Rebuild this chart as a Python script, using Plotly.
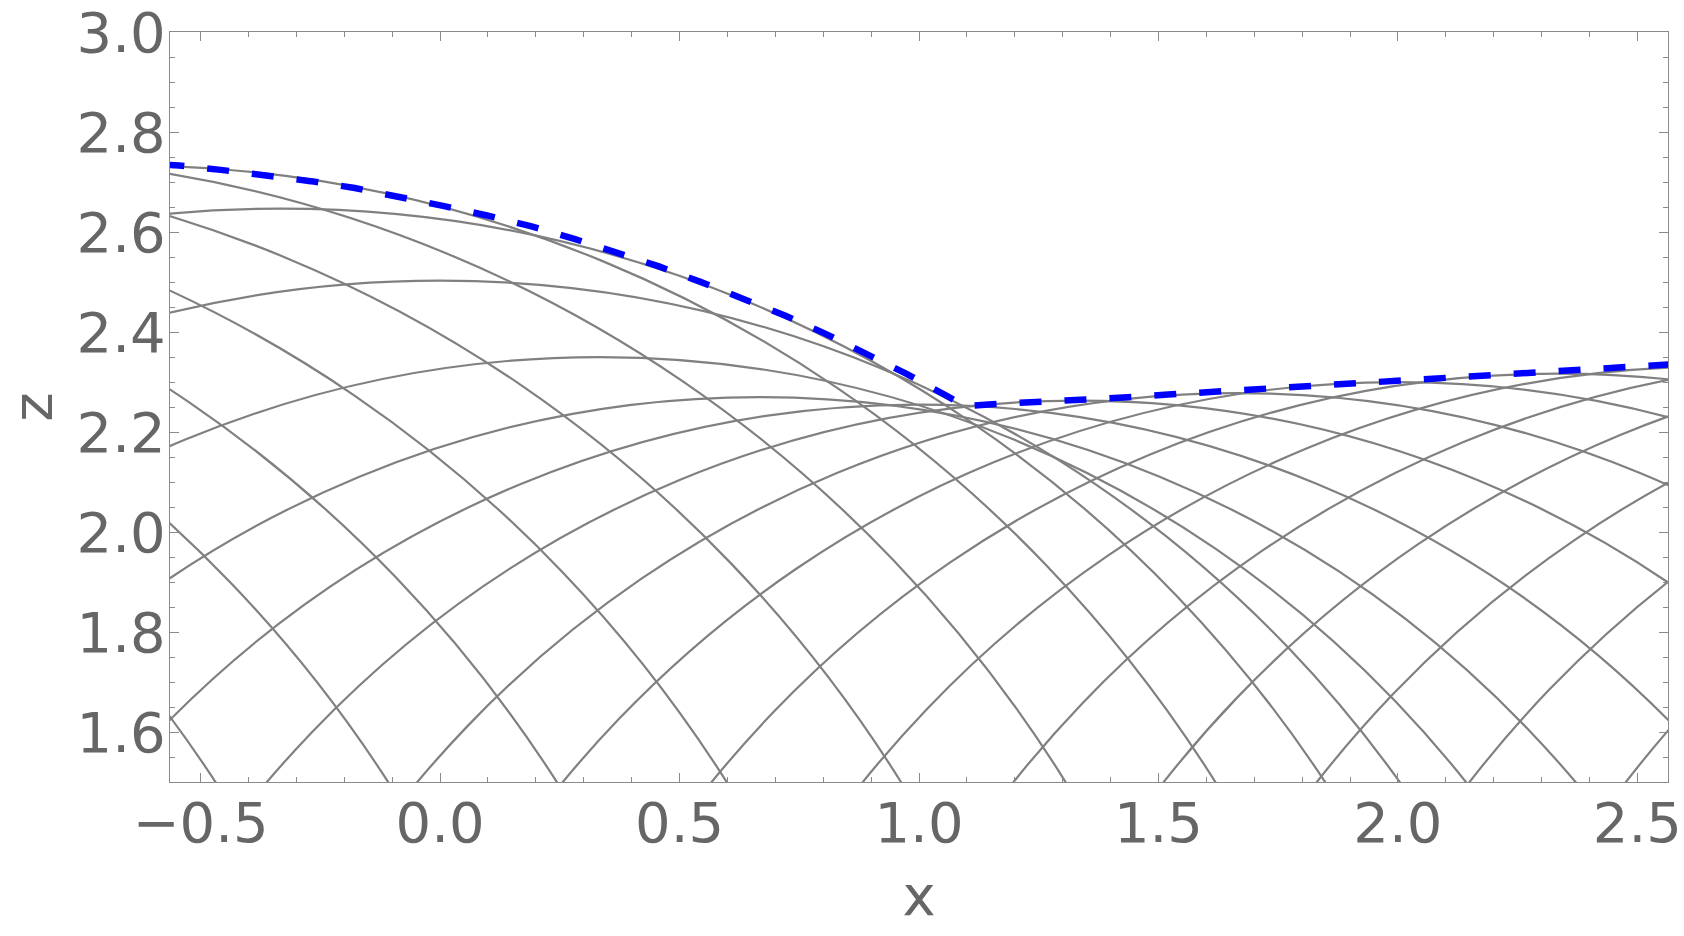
import plotly.graph_objects as go

# Family of semicircular arcs (centre on z = 0): centre x and radius
arc_center = [-2.667, -2.333, -2.0, -1.667, -1.333, -1.0, -0.667, -0.333,
              0.0, 0.333, 0.667, 1.0, 1.333, 1.667, 2.0, 2.333, 2.667,
              3.0, 3.333, 3.667, 4.0, 4.333]
arc_radius = [2.661, 2.683, 2.699, 2.717, 2.742, 2.751, 2.734, 2.647,
              2.503, 2.350, 2.270, 2.255, 2.263, 2.278, 2.300, 2.317, 2.331,
              2.345, 2.360, 2.371, 2.382, 2.387]

# Upper envelope (blue dashed)
env_x = [-0.58, -0.545, -0.458, -0.364, -0.270, -0.178, -0.086, 0.006, 0.098,
         0.189, 0.280, 0.369, 0.457, 0.545, 0.633, 0.720, 0.805, 0.890, 0.974,
         1.056, 1.097, 1.145, 1.239, 1.332, 1.426, 1.520, 1.614, 1.708, 1.800,
         1.894, 1.988, 2.082, 2.176, 2.270, 2.363, 2.457, 2.551, 2.58]
env_z = [2.7355, 2.7334, 2.7246, 2.7146, 2.7020, 2.6882, 2.6716, 2.6526, 2.6334,
         2.6120, 2.5866, 2.5600, 2.5314, 2.5000, 2.4680, 2.4334, 2.3966, 2.3580, 2.3166,
         2.2734, 2.2515, 2.2554, 2.2590, 2.2634, 2.2690, 2.2752, 2.2808, 2.2862, 2.2920,
         2.2980, 2.3036, 2.3092, 2.3146, 2.3200, 2.3252, 2.3300, 2.3346, 2.3360]

x_range = [-0.564, 2.564]
z_range = [1.5, 3.0004]

GRAY = "#808080"
FRAME = "#8a8a8a"
LABEL = "#666666"
FONT = "DejaVu Sans"

fig = go.Figure()

shapes = []
for c, r in zip(arc_center, arc_radius):
    shapes.append(dict(type="circle", xref="x", yref="y",
                       x0=c - r, x1=c + r, y0=-r, y1=r,
                       line=dict(color=GRAY, width=2.2), layer="below"))

fig.add_trace(go.Scatter(x=env_x, y=env_z, mode="lines",
                         line=dict(color="#0000FF", width=6.5, dash="22px,23px"),
                         hoverinfo="skip", showlegend=False))

axis_common = dict(showline=True, linecolor=FRAME, linewidth=1.3, mirror="ticks",
                   ticks="inside", ticklen=9, tickwidth=1.2, tickcolor=FRAME,
                   showgrid=False, zeroline=False, automargin=False,
                   tickfont=dict(family=FONT, size=56, color=LABEL),
                   tickformat=".1f", ticklabelstandoff=-8,
                   ticklabeloverflow="allow")

fig.update_xaxes(range=x_range, dtick=0.5, tick0=0,
                 minor=dict(dtick=0.1, tick0=0, ticks="inside", ticklen=5,
                            tickwidth=1.2, tickcolor=FRAME, showgrid=False),
                 title=dict(text="x", font=dict(family=FONT, size=56, color=LABEL),
                            standoff=21),
                 **axis_common)
fig.update_yaxes(range=z_range, dtick=0.2, tick0=0,
                 minor=dict(dtick=0.05, tick0=0, ticks="inside", ticklen=5,
                            tickwidth=1.2, tickcolor=FRAME, showgrid=False),
                 title=dict(text="z", font=dict(family=FONT, size=56, color=LABEL),
                            standoff=28),
                 **axis_common)

fig.update_layout(width=1684, height=936,
                  margin=dict(l=170, r=16, t=32, b=154, pad=0),
                  paper_bgcolor="white", plot_bgcolor="white",
                  shapes=shapes, showlegend=False)

fig.write_html("out.html")
